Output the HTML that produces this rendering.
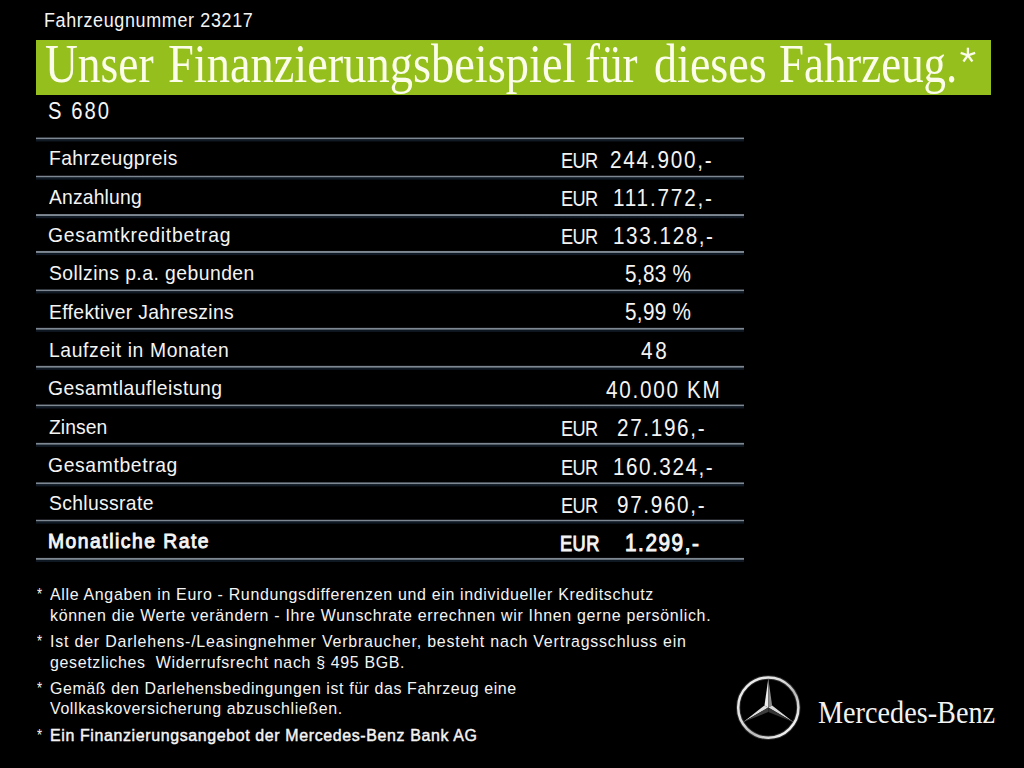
<!DOCTYPE html>
<html><head><meta charset="utf-8"><style>
html,body{margin:0;padding:0;background:#000;}
body{width:1024px;height:768px;overflow:hidden;position:relative;}
.t{position:absolute;white-space:pre;line-height:0;transform-origin:0 0;}
.ls{font-family:"Liberation Sans", sans-serif;}
.lr{font-family:"Liberation Serif", serif;}
.b{font-weight:bold;}
.md{-webkit-text-stroke:0.45px currentColor;}
.md2{-webkit-text-stroke:0.95px currentColor;}
.tm{-webkit-text-stroke:0.6px currentColor;}
.green{position:absolute;left:36px;top:40px;width:955px;height:55px;background:rgb(148,191,28);}
.ln{position:absolute;left:36px;width:708px;height:9px;}
.star{position:absolute;left:0;top:0;}
</style></head><body>
<div class="green"></div>
<div class="ln" style="top:135px;background:linear-gradient(to bottom,rgba(0,0,0,0) 1.80px,#202228 2.40px,#7e8892 2.85px,#7e8892 3.85px,#1c2630 4.40px,#0d1822 4.90px,#111a26 5.90px,rgba(0,0,0,0) 7.00px)"></div>
<div class="ln" style="top:173px;background:linear-gradient(to bottom,rgba(0,0,0,0) 1.96px,#202228 2.56px,#7e8892 3.01px,#7e8892 4.01px,#1c2630 4.56px,#0d1822 5.06px,#111a26 6.06px,rgba(0,0,0,0) 7.16px)"></div>
<div class="ln" style="top:212px;background:linear-gradient(to bottom,rgba(0,0,0,0) 1.50px,#202228 2.10px,#7e8892 2.55px,#7e8892 3.55px,#1c2630 4.10px,#0d1822 4.60px,#111a26 5.60px,rgba(0,0,0,0) 6.70px)"></div>
<div class="ln" style="top:249px;background:linear-gradient(to bottom,rgba(0,0,0,0) 1.40px,#202228 2.00px,#7e8892 2.45px,#7e8892 3.45px,#1c2630 4.00px,#0d1822 4.50px,#111a26 5.50px,rgba(0,0,0,0) 6.60px)"></div>
<div class="ln" style="top:287px;background:linear-gradient(to bottom,rgba(0,0,0,0) 1.80px,#202228 2.40px,#7e8892 2.85px,#7e8892 3.85px,#1c2630 4.40px,#0d1822 4.90px,#111a26 5.90px,rgba(0,0,0,0) 7.00px)"></div>
<div class="ln" style="top:325px;background:linear-gradient(to bottom,rgba(0,0,0,0) 2.20px,#202228 2.80px,#7e8892 3.25px,#7e8892 4.25px,#1c2630 4.80px,#0d1822 5.30px,#111a26 6.30px,rgba(0,0,0,0) 7.40px)"></div>
<div class="ln" style="top:363px;background:linear-gradient(to bottom,rgba(0,0,0,0) 2.20px,#202228 2.80px,#7e8892 3.25px,#7e8892 4.25px,#1c2630 4.80px,#0d1822 5.30px,#111a26 6.30px,rgba(0,0,0,0) 7.40px)"></div>
<div class="ln" style="top:402px;background:linear-gradient(to bottom,rgba(0,0,0,0) 1.80px,#202228 2.40px,#7e8892 2.85px,#7e8892 3.85px,#1c2630 4.40px,#0d1822 4.90px,#111a26 5.90px,rgba(0,0,0,0) 7.00px)"></div>
<div class="ln" style="top:440px;background:linear-gradient(to bottom,rgba(0,0,0,0) 2.20px,#202228 2.80px,#7e8892 3.25px,#7e8892 4.25px,#1c2630 4.80px,#0d1822 5.30px,#111a26 6.30px,rgba(0,0,0,0) 7.40px)"></div>
<div class="ln" style="top:480px;background:linear-gradient(to bottom,rgba(0,0,0,0) 1.70px,#202228 2.30px,#7e8892 2.75px,#7e8892 3.75px,#1c2630 4.30px,#0d1822 4.80px,#111a26 5.80px,rgba(0,0,0,0) 6.90px)"></div>
<div class="ln" style="top:517px;background:linear-gradient(to bottom,rgba(0,0,0,0) 1.96px,#202228 2.56px,#7e8892 3.01px,#7e8892 4.01px,#1c2630 4.56px,#0d1822 5.06px,#111a26 6.06px,rgba(0,0,0,0) 7.16px)"></div>
<div class="ln" style="top:555px;background:linear-gradient(to bottom,rgba(0,0,0,0) 2.30px,#202228 2.90px,#7e8892 3.35px,#7e8892 4.35px,#1c2630 4.90px,#0d1822 5.40px,#111a26 6.40px,rgba(0,0,0,0) 7.50px)"></div>
<div class="t ls" style="left:43.58px;top:19.84px;font-size:19.5px;transform:scaleX(0.9200);letter-spacing:0.706px;color:#f4f4f4">Fahrzeugnummer 23217</div>
<div class="t lr" style="left:44.87px;top:63.74px;font-size:55px;transform:scaleX(0.8267);letter-spacing:0.000px;color:#fbfdea">Unser</div>
<div class="t lr" style="left:168.46px;top:63.74px;font-size:55px;transform:scaleX(0.8440);letter-spacing:0.000px;color:#fbfdea">Finanzierungsbeispiel</div>
<div class="t lr" style="left:584.78px;top:63.74px;font-size:55px;transform:scaleX(0.8183);letter-spacing:0.000px;color:#fbfdea">für</div>
<div class="t lr" style="left:653.56px;top:63.74px;font-size:55px;transform:scaleX(0.8386);letter-spacing:0.000px;color:#fbfdea">dieses</div>
<div class="t lr" style="left:779.38px;top:63.74px;font-size:55px;transform:scaleX(0.8163);letter-spacing:0.000px;color:#fbfdea">Fahrzeug.</div>
<div class="t ls" style="left:48.12px;top:111.43px;font-size:23px;transform:scaleX(0.8800);letter-spacing:2.297px;color:#f4f4f4">S 680</div>
<div class="t ls" style="left:49.08px;top:157.97px;font-size:21px;transform:scaleX(0.9200);letter-spacing:0.442px;color:#f4f4f4">Fahrzeugpreis</div>
<div class="t ls" style="left:49.00px;top:196.97px;font-size:21px;transform:scaleX(0.9200);letter-spacing:0.179px;color:#f4f4f4">Anzahlung</div>
<div class="t ls" style="left:48.08px;top:234.97px;font-size:21px;transform:scaleX(0.9200);letter-spacing:0.824px;color:#f4f4f4">Gesamtkreditbetrag</div>
<div class="t ls" style="left:49.00px;top:272.97px;font-size:21px;transform:scaleX(0.9200);letter-spacing:0.509px;color:#f4f4f4">Sollzins p.a. gebunden</div>
<div class="t ls" style="left:48.78px;top:311.97px;font-size:21px;transform:scaleX(0.9200);letter-spacing:0.369px;color:#f4f4f4">Effektiver Jahreszins</div>
<div class="t ls" style="left:48.78px;top:349.97px;font-size:21px;transform:scaleX(0.9200);letter-spacing:0.677px;color:#f4f4f4">Laufzeit in Monaten</div>
<div class="t ls" style="left:48.08px;top:387.97px;font-size:21px;transform:scaleX(0.9200);letter-spacing:0.554px;color:#f4f4f4">Gesamtlaufleistung</div>
<div class="t ls" style="left:49.00px;top:426.97px;font-size:21px;transform:scaleX(0.9200);letter-spacing:0.051px;color:#f4f4f4">Zinsen</div>
<div class="t ls" style="left:48.08px;top:464.97px;font-size:21px;transform:scaleX(0.9200);letter-spacing:0.684px;color:#f4f4f4">Gesamtbetrag</div>
<div class="t ls" style="left:49.00px;top:502.97px;font-size:21px;transform:scaleX(0.9200);letter-spacing:0.379px;color:#f4f4f4">Schlussrate</div>
<div class="t ls md2" style="left:48.08px;top:540.97px;font-size:21px;transform:scaleX(0.9200);letter-spacing:1.626px;color:#f4f4f4">Monatliche Rate</div>
<div class="t ls" style="left:610.30px;top:160.28px;font-size:23px;transform:scaleX(0.9000);letter-spacing:1.976px;color:#f4f4f4">244.900,-</div>
<div class="t ls" style="left:561.14px;top:160.90px;font-size:21.2px;transform:scaleX(0.8600);letter-spacing:-0.786px;color:#f4f4f4">EUR</div>
<div class="t ls" style="left:613.30px;top:198.28px;font-size:23px;transform:scaleX(0.9000);letter-spacing:2.027px;color:#f4f4f4">111.772,-</div>
<div class="t ls" style="left:561.14px;top:198.90px;font-size:21.2px;transform:scaleX(0.8600);letter-spacing:-0.786px;color:#f4f4f4">EUR</div>
<div class="t ls" style="left:612.60px;top:236.28px;font-size:23px;transform:scaleX(0.9000);letter-spacing:1.739px;color:#f4f4f4">133.128,-</div>
<div class="t ls" style="left:561.14px;top:236.90px;font-size:21.2px;transform:scaleX(0.8600);letter-spacing:-0.786px;color:#f4f4f4">EUR</div>
<div class="t ls" style="left:625.00px;top:274.28px;font-size:23px;transform:scaleX(0.9000);letter-spacing:0.347px;color:#f4f4f4">5,83 %</div>
<div class="t ls" style="left:625.00px;top:312.28px;font-size:23px;transform:scaleX(0.9000);letter-spacing:0.347px;color:#f4f4f4">5,99 %</div>
<div class="t ls" style="left:640.90px;top:351.28px;font-size:23px;transform:scaleX(0.9000);letter-spacing:3.097px;color:#f4f4f4">48</div>
<div class="t ls" style="left:605.70px;top:390.28px;font-size:23px;transform:scaleX(0.9000);letter-spacing:1.907px;color:#f4f4f4">40.000 KM</div>
<div class="t ls" style="left:616.80px;top:428.28px;font-size:23px;transform:scaleX(0.9000);letter-spacing:1.847px;color:#f4f4f4">27.196,-</div>
<div class="t ls" style="left:561.14px;top:428.90px;font-size:21.2px;transform:scaleX(0.8600);letter-spacing:-0.786px;color:#f4f4f4">EUR</div>
<div class="t ls" style="left:612.70px;top:467.28px;font-size:23px;transform:scaleX(0.9000);letter-spacing:1.684px;color:#f4f4f4">160.324,-</div>
<div class="t ls" style="left:561.14px;top:467.90px;font-size:21.2px;transform:scaleX(0.8600);letter-spacing:-0.786px;color:#f4f4f4">EUR</div>
<div class="t ls" style="left:616.80px;top:505.28px;font-size:23px;transform:scaleX(0.9000);letter-spacing:1.847px;color:#f4f4f4">97.960,-</div>
<div class="t ls" style="left:561.14px;top:505.90px;font-size:21.2px;transform:scaleX(0.8600);letter-spacing:-0.786px;color:#f4f4f4">EUR</div>
<div class="t ls md2" style="left:624.70px;top:543.28px;font-size:23px;transform:scaleX(0.9000);letter-spacing:1.750px;color:#f4f4f4">1.299,-</div>
<div class="t ls md2" style="left:560.14px;top:543.90px;font-size:21.2px;transform:scaleX(0.8600);letter-spacing:0.493px;color:#f4f4f4">EUR</div>
<div class="t ls" style="left:50.00px;top:595.08px;font-size:16.8px;transform:scaleX(0.9500);letter-spacing:0.713px;color:#f4f4f4">Alle Angaben in Euro - Rundungsdifferenzen und ein individueller Kreditschutz</div>
<div class="t ls" style="left:49.55px;top:616.08px;font-size:16.8px;transform:scaleX(0.9500);letter-spacing:0.738px;color:#f4f4f4">können die Werte verändern - Ihre Wunschrate errechnen wir Ihnen gerne persönlich.</div>
<div class="t ls" style="left:49.55px;top:642.08px;font-size:16.8px;transform:scaleX(0.9500);letter-spacing:0.844px;color:#f4f4f4">Ist der Darlehens-/Leasingnehmer Verbraucher, besteht nach Vertragsschluss ein</div>
<div class="t ls" style="left:50.00px;top:663.08px;font-size:16.8px;transform:scaleX(0.9500);letter-spacing:0.696px;color:#f4f4f4">gesetzliches  Widerrufsrecht nach § 495 BGB.</div>
<div class="t ls" style="left:50.00px;top:689.08px;font-size:16.8px;transform:scaleX(0.9500);letter-spacing:0.627px;color:#f4f4f4">Gemäß den Darlehensbedingungen ist für das Fahrzeug eine</div>
<div class="t ls" style="left:50.00px;top:709.08px;font-size:16.8px;transform:scaleX(0.9500);letter-spacing:0.657px;color:#f4f4f4">Vollkaskoversicherung abzuschließen.</div>
<div class="t ls md" style="left:50.05px;top:736.08px;font-size:16.8px;transform:scaleX(0.9500);letter-spacing:0.660px;color:#f4f4f4">Ein Finanzierungsangebot der Mercedes-Benz Bank AG</div>
<div class="t ls" style="left:37.30px;top:595.08px;font-size:16.8px;transform:scaleX(0.7714);letter-spacing:0.000px;color:#f4f4f4">*</div>
<div class="t ls" style="left:37.30px;top:642.08px;font-size:16.8px;transform:scaleX(0.7714);letter-spacing:0.000px;color:#f4f4f4">*</div>
<div class="t ls" style="left:37.30px;top:689.08px;font-size:16.8px;transform:scaleX(0.7714);letter-spacing:0.000px;color:#f4f4f4">*</div>
<div class="t ls" style="left:37.30px;top:736.08px;font-size:16.8px;transform:scaleX(0.7714);letter-spacing:0.000px;color:#f4f4f4">*</div>
<div class="t lr" style="left:818.20px;top:712.94px;font-size:31px;transform:scaleX(0.9105);letter-spacing:0.000px;color:#f2f2f2">Mercedes-Benz</div>
<svg class="star" width="1024" height="768" viewBox="0 0 1024 768">
<defs>
<linearGradient id="rg" x1="0" y1="0" x2="1" y2="1">
<stop offset="0" stop-color="#f4f4f4"/><stop offset="0.4" stop-color="#dcdcdc"/><stop offset="0.6" stop-color="#b8b8b8"/><stop offset="0.85" stop-color="#f0f0f0"/><stop offset="1" stop-color="#d0d0d0"/>
</linearGradient>
</defs>
<circle cx="768.3" cy="707.6" r="30.1" fill="none" stroke="#2c2c2c" stroke-width="4.4"/>
<circle cx="768.3" cy="707.6" r="30.1" fill="none" stroke="url(#rg)" stroke-width="2.5"/>
<polygon points="768.30,678.40 764.49,705.40 768.30,707.60" fill="#ececec"/>
<polygon points="768.30,678.40 768.30,707.60 772.11,705.40" fill="#8c8c8c"/>
<polygon points="743.01,722.20 764.49,705.40 768.30,707.60" fill="#e0e0e0"/>
<polygon points="743.01,722.20 768.30,707.60 768.30,712.00" fill="#3c3c3c"/>
<polygon points="793.59,722.20 772.11,705.40 768.30,707.60" fill="#d8d8d8"/>
<polygon points="793.59,722.20 768.30,707.60 768.30,712.00" fill="#343434"/>
<line x1="967.90" y1="55.30" x2="967.90" y2="47.70" stroke="#fbfdea" stroke-width="2.3" stroke-linecap="butt"/>
<line x1="967.90" y1="55.30" x2="975.13" y2="52.95" stroke="#fbfdea" stroke-width="2.3" stroke-linecap="butt"/>
<line x1="967.90" y1="55.30" x2="972.37" y2="61.45" stroke="#fbfdea" stroke-width="2.3" stroke-linecap="butt"/>
<line x1="967.90" y1="55.30" x2="963.43" y2="61.45" stroke="#fbfdea" stroke-width="2.3" stroke-linecap="butt"/>
<line x1="967.90" y1="55.30" x2="960.67" y2="52.95" stroke="#fbfdea" stroke-width="2.3" stroke-linecap="butt"/>
</svg>
</body></html>
